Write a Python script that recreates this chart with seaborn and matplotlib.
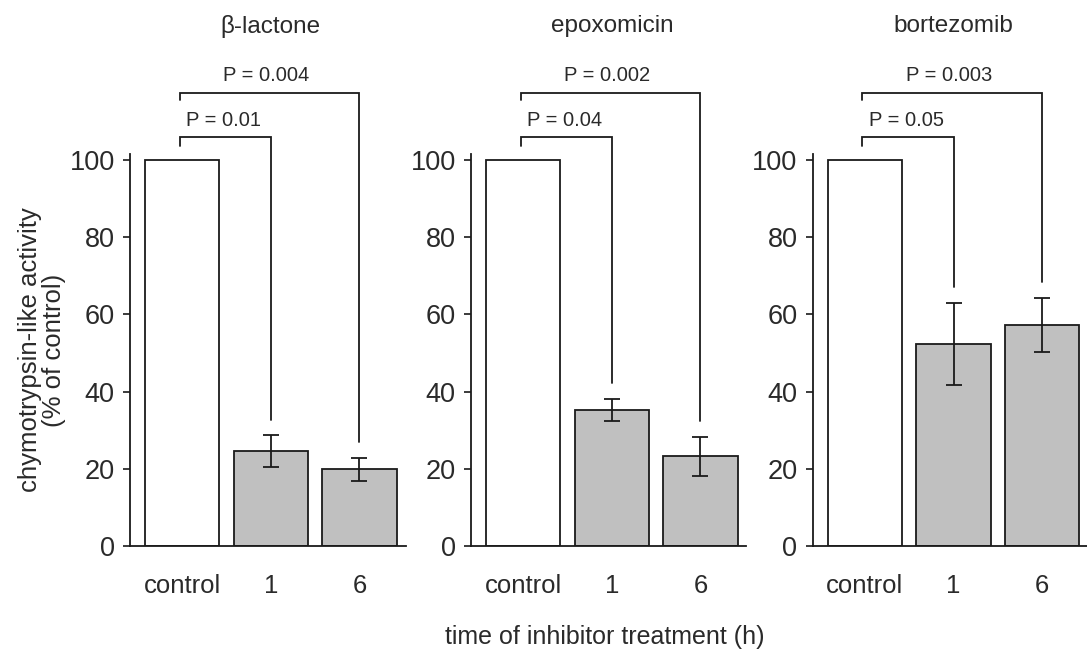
import numpy as np
import pandas as pd
import matplotlib
matplotlib.use("Agg")
import matplotlib.pyplot as plt
import seaborn as sns

# ---- data ----
panels = ["β-lactone", "epoxomicin", "bortezomib"]
categories = ["control", "1", "6"]
means_blactone = [100, 24.6, 19.9]
err_blactone = [0, 4.1, 3.0]
means_epoxomicin = [100, 35.3, 23.2]
err_epoxomicin = [0, 2.9, 5.1]
means_bortezomib = [100, 52.3, 57.3]
err_bortezomib = [0, 10.7, 7.0]
pvals_blactone = ["P = 0.01", "P = 0.004"]
pvals_epoxomicin = ["P = 0.04", "P = 0.002"]
pvals_bortezomib = ["P = 0.05", "P = 0.003"]
yticks = [0, 20, 40, 60, 80, 100]

means = [means_blactone, means_epoxomicin, means_bortezomib]
errs = [err_blactone, err_epoxomicin, err_bortezomib]
pvals = [pvals_blactone, pvals_epoxomicin, pvals_bortezomib]

sns.set_theme(style="ticks")
plt.rcParams["font.family"] = ["Liberation Sans", "DejaVu Sans"]
TXT = "#2a2a2a"
LN = "#1a1a1a"

W, H = 1087, 658
fig = plt.figure(figsize=(W / 100, H / 100), dpi=100)

lefts_px = [130, 471, 812.7]
ax_w_px = 275.5
ymax = 140
y0_px = 546
px_per_unit = 3.86
bottom = (H - y0_px) / H
height = ymax * px_per_unit / H

bar_colors = ["white", "#c0c0c0", "#c0c0c0"]
inner_level = [103.7, 105.9]
outer_level = [115.5, 117.4]
gap_above_err = 4.0

for i, name in enumerate(panels):
    ax = fig.add_axes([lefts_px[i] / W, bottom, ax_w_px / W, height])
    df = pd.DataFrame({"time": categories, "activity": means[i]})
    sns.barplot(data=df, x="time", y="activity", hue="time", palette=bar_colors,
                order=categories, hue_order=categories, errorbar=None, width=0.84,
                edgecolor=LN, linewidth=1.3, legend=False, ax=ax)
    xs = np.arange(len(categories))
    m = np.array(means[i])
    e = np.array(errs[i])
    ax.errorbar(xs[1:], m[1:], yerr=e[1:], fmt="none", ecolor=LN,
                elinewidth=1.3, capsize=5.8, capthick=1.3)

    # significance brackets
    tops = m + e + gap_above_err
    xl = xs[0] - 0.03
    for lvl, j, txt in [(inner_level, 1, pvals[i][0]), (outer_level, 2, pvals[i][1])]:
        ax.plot([xl, xl, xs[j], xs[j]], [lvl[0], lvl[1], lvl[1], tops[j]],
                color=LN, lw=1.3, solid_joinstyle="miter")
        ax.text((xl + xs[j]) / 2 - 0.02 * j, lvl[1] + 2.0, txt, ha="center",
                va="bottom", fontsize=14.5, color=TXT)

    ax.text(1.0, 134.7, name, ha="center", va="center", fontsize=17.5, color=TXT)

    ax.set_xlim(-0.59, 2.52)
    ax.set_ylim(0, ymax)
    ax.set_yticks(yticks)
    ax.set_yticklabels([str(t) for t in yticks])
    ax.spines["left"].set_bounds(0, 101.5)
    ax.spines["top"].set_visible(False)
    ax.spines["right"].set_visible(False)
    for sp in ["left", "bottom"]:
        ax.spines[sp].set_color(LN)
        ax.spines[sp].set_linewidth(1.3)
    ax.tick_params(axis="y", length=5, width=1.2, color=LN, pad=6,
                   labelsize=19.5, labelcolor=TXT)
    ax.tick_params(axis="x", length=0, pad=20, labelsize=18.5, labelcolor=TXT)
    ax.set_xlabel("")
    ax.set_ylabel("")
    ax.patch.set_alpha(0)

fig.text(42 / W, 1 - 350 / H, "chymotrypsin-like activity\n(% of control)",
         rotation=90, ha="center", va="center", fontsize=18.5, color=TXT,
         linespacing=1.05)
fig.text(605 / W, 1 - 637 / H, "time of inhibitor treatment (h)",
         ha="center", va="center", fontsize=18, color=TXT)

fig.savefig("out.png", dpi=100, facecolor="white")
